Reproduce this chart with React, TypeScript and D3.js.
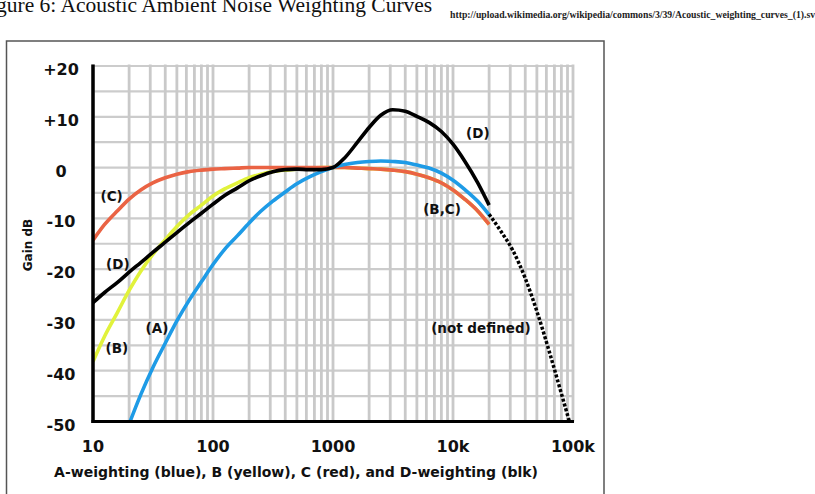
import React from "react";
import * as d3 from "d3";

const FREQS = [10, 12.5, 16, 20, 25, 31.5, 40, 50, 63, 80, 100, 125, 160, 200, 250, 315, 400, 500, 630, 800, 1000, 1250, 1600, 2000, 2500, 3150, 4000, 5000, 6300, 8000, 10000, 12500, 16000, 20000];
const A_GAIN = [-70.4, -63.4, -56.7, -50.5, -44.7, -39.4, -34.6, -30.2, -26.2, -22.5, -19.1, -16.1, -13.4, -10.9, -8.6, -6.6, -4.8, -3.2, -1.9, -0.8, 0, 0.6, 1.0, 1.2, 1.3, 1.2, 1.0, 0.5, -0.1, -1.1, -2.5, -4.3, -6.6, -9.3];
const B_GAIN = [-38.2, -33.2, -28.5, -24.2, -20.4, -17.1, -14.2, -11.6, -9.3, -7.4, -5.6, -4.2, -3.0, -2.0, -1.3, -0.8, -0.5, -0.3, -0.1, 0, 0, 0, -0.1, -0.2, -0.3, -0.5, -0.8, -1.3, -2.0, -3.0, -4.4, -6.2, -8.5, -11.2];
const C_GAIN = [-14.3, -11.2, -8.5, -6.2, -4.4, -3.0, -2.0, -1.3, -0.8, -0.5, -0.3, -0.2, -0.1, 0, 0, 0, 0, 0, 0, 0, 0, 0, -0.1, -0.2, -0.3, -0.5, -0.8, -1.3, -2.0, -3.0, -4.4, -6.2, -8.5, -11.2];
const D_GAIN = [-26.6, -24.6, -22.6, -20.6, -18.7, -16.7, -14.7, -12.8, -10.9, -9.0, -7.2, -5.5, -4.0, -2.6, -1.6, -0.8, -0.4, -0.3, -0.4, -0.4, 0, 1.9, 5.0, 7.9, 10.3, 11.4, 11.1, 10.1, 8.9, 7.1, 4.6, 1.3, -2.9, -7.4];

const UNDEF_FREQS = [20000, 25000, 31500, 40000, 50000, 63000, 80000, 100000];
const UNDEF_GAIN = [-9.2, -12.5, -16.3, -21.8, -28.3, -36.0, -44.5, -52.5];

const Y_TICKS = [20, 10, 0, -10, -20, -30, -40, -50];
const Y_TICK_LABELS = ["+20", "+10", "0", "-10", "-20", "-30", "-40", "-50"];
const X_TICKS = [10, 100, 1000, 10000, 100000];
const X_TICK_LABELS = ["10", "100", "1000", "10k", "100k"];

const CURVE_LABELS = ["(C)", "(D)", "(B)", "(A)", "(B,C)", "(D)", "(not defined)"];
const CURVE_LABEL_FREQ = [14.3, 16.1, 15.8, 34.1, 8100, 16100, 17100];
const CURVE_LABEL_GAIN = [-5.6, -19.1, -35.6, -31.7, -8.2, 6.8, -31.7];

const TITLE = "Figure 6: Acoustic Ambient Noise Weighting Curves";
const URL_TEXT = "http://upload.wikimedia.org/wikipedia/commons/3/39/Acoustic_weighting_curves_(1).svg";
const X_TITLE = "A-weighting (blue), B (yellow), C (red), and D-weighting (blk)";
const Y_TITLE = "Gain dB";

const W = 815;
const H = 494;

export default function App() {
  const x = d3.scaleLog().domain([10, 100000]).range([93, 573]);
  const y = d3.scaleLinear().domain([-50, 20]).range([421.5, 66]);

  const vGrid: number[] = [];
  for (let k = 1; k <= 4; k++) {
    for (let m = 1; m <= 9; m++) vGrid.push(m * Math.pow(10, k));
  }
  vGrid.push(100000);
  const hGrid = d3.range(-50, 20.01, 5);

  const line = d3
    .line<[number, number]>()
    .x((d) => x(d[0]))
    .y((d) => y(d[1]))
    .curve(d3.curveMonotoneX);

  const series = [
    { gains: B_GAIN, color: "#e1f23b" },
    { gains: C_GAIN, color: "#ea6344" },
    { gains: A_GAIN, color: "#1e9be6" },
    { gains: D_GAIN, color: "#000000" },
  ];

  const tickFont = "'DejaVu Sans', sans-serif";

  return (
    <svg
      width={W}
      height={H}
      style={{ position: "absolute", left: 0, top: 0, display: "block", background: "#fff" }}
    >
      <rect x={0} y={0} width={W} height={H} fill="#fff" />
      <text
        x={-21.9}
        y={12}
        fontFamily="'Liberation Serif', serif"
        fontSize={21.5}
        fill="#111"
      >
        {TITLE}
      </text>
      <text
        x={450}
        y={18}
        fontFamily="'Liberation Serif', serif"
        fontSize={9.5}
        fontWeight="bold"
        fill="#222"
        textLength={370}
        lengthAdjust="spacingAndGlyphs"
      >
        {URL_TEXT}
      </text>

      <rect x={6.5} y={41} width={597.5} height={470} fill="none" stroke="#555" strokeWidth={1.5} />

      <defs>
        <clipPath id="plotClip">
          <rect x={93} y={60} width={485} height={361.5} />
        </clipPath>
      </defs>

      <g>
        {hGrid.map((v) => (
          <line key={"h" + v} x1={93} x2={574} y1={y(v)} y2={y(v)} stroke="#cccccc" strokeWidth={2.2} />
        ))}
        {vGrid.map((f) => (
          <line key={"v" + f} x1={x(f)} x2={x(f)} y1={64.5} y2={421.5} stroke="#c9c9c9" strokeWidth={2.8} />
        ))}
      </g>

      <g clipPath="url(#plotClip)">
        {series.map((s, i) => (
          <path
            key={i}
            d={line(FREQS.map((f, j) => [f, s.gains[j]] as [number, number])) || ""}
            fill="none"
            stroke={s.color}
            strokeWidth={3.6}
            strokeLinejoin="round"
          />
        ))}
        <path
          d={line(UNDEF_FREQS.map((f, j) => [f, UNDEF_GAIN[j]] as [number, number])) || ""}
          fill="none"
          stroke="#000"
          strokeWidth={3.5}
          strokeDasharray="3 2"
        />
      </g>

      <line x1={93} x2={93} y1={64.5} y2={423} stroke="#000" strokeWidth={3.5} />
      <line x1={91.5} x2={574} y1={421.5} y2={421.5} stroke="#000" strokeWidth={3} />

      {Y_TICKS.map((v, i) => (
        <text
          key={"yt" + v}
          x={61}
          y={y(v) + 9}
          textAnchor="middle"
          fontFamily={tickFont}
          fontWeight="bold"
          fontSize={16}
          fill="#111"
        >
          {Y_TICK_LABELS[i]}
        </text>
      ))}
      {X_TICKS.map((v, i) => (
        <text
          key={"xt" + v}
          x={x(v)}
          y={452}
          textAnchor="middle"
          fontFamily={tickFont}
          fontWeight="bold"
          fontSize={16}
          fill="#111"
        >
          {X_TICK_LABELS[i]}
        </text>
      ))}

      <text
        x={296}
        y={477}
        textAnchor="middle"
        fontFamily={tickFont}
        fontWeight="bold"
        fontSize={14}
        fill="#111"
      >
        {X_TITLE}
      </text>
      <text
        transform={`translate(32,245) rotate(-90)`}
        textAnchor="middle"
        fontFamily={tickFont}
        fontWeight="bold"
        fontSize={12}
        fill="#111"
      >
        {Y_TITLE}
      </text>

      {CURVE_LABELS.map((t, i) => (
        <text
          key={"cl" + i}
          x={x(CURVE_LABEL_FREQ[i])}
          y={y(CURVE_LABEL_GAIN[i])}
          dy="0.35em"
          textAnchor="middle"
          fontFamily={tickFont}
          fontWeight="bold"
          fontSize={13.5}
          fill="#111"
        >
          {t}
        </text>
      ))}
    </svg>
  );
}
